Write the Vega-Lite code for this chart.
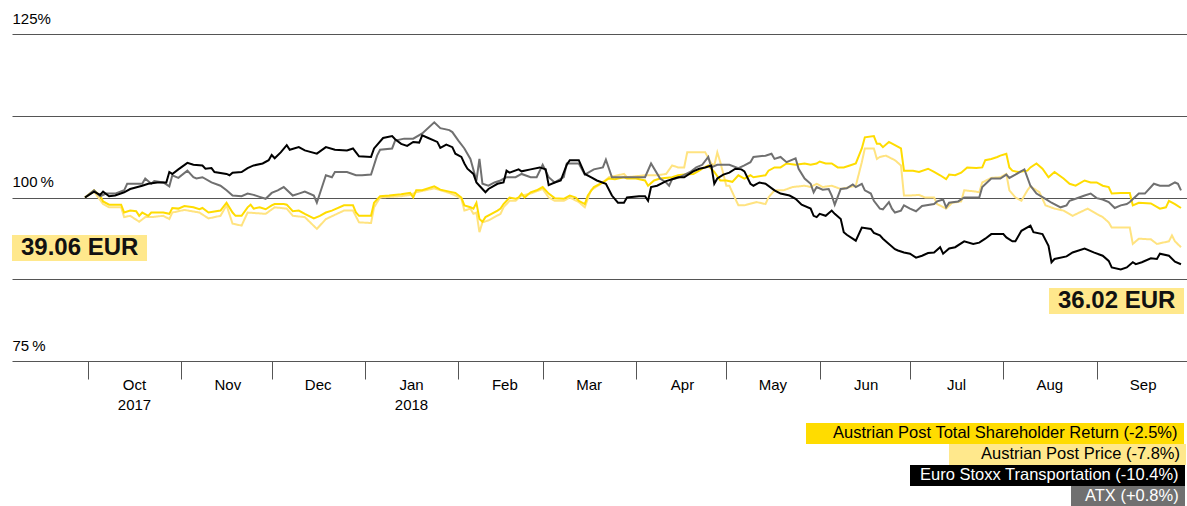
{
"$schema": "https://vega.github.io/schema/vega-lite/v6.json",
"width": 1175, "height": 327,
"autosize": {"type": "none"},
"padding": {"left": 12, "top": 34, "right": 0, "bottom": 145},
"background": "#ffffff",
"config": {"view": {"stroke": null}, "font": "Liberation Sans"},
"datasets": {
"tsr": [
{"d":"2017-09-30","v":100},{"d":"2017-10-03","v":101.1},{"d":"2017-10-05","v":100.3},{"d":"2017-10-06","v":99.4},{"d":"2017-10-08","v":98.9},{"d":"2017-10-12","v":98.9},{"d":"2017-10-13","v":97.7},{"d":"2017-10-15","v":98.0},{"d":"2017-10-17","v":97.9},{"d":"2017-10-18","v":97.2},{"d":"2017-10-19","v":97.7},{"d":"2017-10-21","v":97.2},{"d":"2017-10-22","v":97.7},{"d":"2017-10-24","v":97.7},{"d":"2017-10-26","v":97.7},{"d":"2017-10-28","v":97.5},{"d":"2017-10-29","v":98.4},{"d":"2017-10-31","v":98.3},
{"d":"2017-11-02","v":98.7},{"d":"2017-11-05","v":98.5},{"d":"2017-11-07","v":98.2},{"d":"2017-11-08","v":98.4},{"d":"2017-11-10","v":97.7},{"d":"2017-11-14","v":98.0},{"d":"2017-11-16","v":99.2},{"d":"2017-11-18","v":97.7},{"d":"2017-11-19","v":97.2},{"d":"2017-11-21","v":97.2},{"d":"2017-11-23","v":98.5},{"d":"2017-11-24","v":98.9},{"d":"2017-11-25","v":98.3},{"d":"2017-11-27","v":98.5},{"d":"2017-11-29","v":98.2},
{"d":"2017-12-01","v":98.8},{"d":"2017-12-02","v":99.0},{"d":"2017-12-05","v":99.0},{"d":"2017-12-06","v":98.9},{"d":"2017-12-08","v":97.9},{"d":"2017-12-10","v":98.0},{"d":"2017-12-12","v":97.5},{"d":"2017-12-15","v":96.8},{"d":"2017-12-17","v":97.2},{"d":"2017-12-19","v":97.7},{"d":"2017-12-21","v":98.0},{"d":"2017-12-25","v":98.8},{"d":"2017-12-28","v":98.8},{"d":"2017-12-29","v":97.7},{"d":"2017-12-30","v":97.2},
{"d":"2018-01-03","v":97.2},{"d":"2018-01-04","v":99.2},{"d":"2018-01-06","v":100.2},{"d":"2018-01-09","v":100.3},{"d":"2018-01-13","v":100.5},{"d":"2018-01-16","v":100.7},{"d":"2018-01-17","v":100.0},{"d":"2018-01-18","v":101.1},{"d":"2018-01-20","v":101.1},{"d":"2018-01-24","v":101.7},{"d":"2018-01-26","v":101.2},{"d":"2018-01-29","v":100.9},{"d":"2018-01-31","v":100.7},
{"d":"2018-02-02","v":100.0},{"d":"2018-02-03","v":98.8},{"d":"2018-02-05","v":98.5},{"d":"2018-02-06","v":98.3},{"d":"2018-02-07","v":99.2},{"d":"2018-02-08","v":96.7},{"d":"2018-02-09","v":96.3},{"d":"2018-02-10","v":97.0},{"d":"2018-02-12","v":97.5},{"d":"2018-02-14","v":98.0},{"d":"2018-02-15","v":98.3},{"d":"2018-02-16","v":99.0},{"d":"2018-02-18","v":100.0},{"d":"2018-02-20","v":99.8},{"d":"2018-02-21","v":100.0},{"d":"2018-02-22","v":100.6},{"d":"2018-02-23","v":100.0},{"d":"2018-02-25","v":100.8},{"d":"2018-02-27","v":101.1},
{"d":"2018-03-01","v":101.6},{"d":"2018-03-03","v":100.6},{"d":"2018-03-05","v":99.9},{"d":"2018-03-08","v":99.8},{"d":"2018-03-10","v":100.3},{"d":"2018-03-12","v":100.0},{"d":"2018-03-13","v":99.5},{"d":"2018-03-15","v":99.0},{"d":"2018-03-16","v":100.3},{"d":"2018-03-18","v":101.6},{"d":"2018-03-21","v":102.3},{"d":"2018-03-23","v":102.9},{"d":"2018-03-25","v":102.8},{"d":"2018-03-28","v":103.1},{"d":"2018-03-29","v":102.9},
{"d":"2018-04-01","v":102.9},{"d":"2018-04-04","v":102.6},{"d":"2018-04-05","v":101.8},{"d":"2018-04-07","v":102.6},{"d":"2018-04-09","v":102.9},{"d":"2018-04-13","v":103.1},{"d":"2018-04-15","v":103.4},{"d":"2018-04-17","v":103.5},{"d":"2018-04-20","v":103.6},{"d":"2018-04-22","v":104.1},{"d":"2018-04-23","v":104.4},{"d":"2018-04-25","v":104.9},{"d":"2018-04-27","v":103.9},{"d":"2018-04-29","v":102.6},
{"d":"2018-05-01","v":102.6},{"d":"2018-05-03","v":102.4},{"d":"2018-05-05","v":103.4},{"d":"2018-05-07","v":102.9},{"d":"2018-05-09","v":103.4},{"d":"2018-05-10","v":103.1},{"d":"2018-05-14","v":103.4},{"d":"2018-05-15","v":104.1},{"d":"2018-05-17","v":104.6},{"d":"2018-05-19","v":104.6},{"d":"2018-05-21","v":105.2},{"d":"2018-05-24","v":105.0},{"d":"2018-05-27","v":105.2},{"d":"2018-05-29","v":105.0},{"d":"2018-05-31","v":105.2},
{"d":"2018-06-01","v":105.5},{"d":"2018-06-03","v":105.2},{"d":"2018-06-05","v":105.2},{"d":"2018-06-07","v":104.6},{"d":"2018-06-09","v":104.6},{"d":"2018-06-11","v":104.9},{"d":"2018-06-13","v":105.2},{"d":"2018-06-15","v":107.5},{"d":"2018-06-16","v":109.2},{"d":"2018-06-19","v":109.4},{"d":"2018-06-20","v":108.2},{"d":"2018-06-21","v":108.2},{"d":"2018-06-22","v":107.7},{"d":"2018-06-24","v":108.5},{"d":"2018-06-26","v":108.0},{"d":"2018-06-28","v":107.5},{"d":"2018-06-29","v":104.1},
{"d":"2018-07-02","v":104.1},{"d":"2018-07-04","v":103.9},{"d":"2018-07-07","v":104.4},{"d":"2018-07-09","v":103.9},{"d":"2018-07-11","v":103.4},{"d":"2018-07-13","v":102.8},{"d":"2018-07-14","v":103.5},{"d":"2018-07-16","v":103.4},{"d":"2018-07-18","v":103.8},{"d":"2018-07-20","v":104.6},{"d":"2018-07-23","v":104.5},{"d":"2018-07-25","v":104.6},{"d":"2018-07-26","v":105.7},{"d":"2018-07-28","v":105.9},{"d":"2018-07-30","v":106.2},{"d":"2018-07-31","v":106.4},
{"d":"2018-08-02","v":106.7},{"d":"2018-08-03","v":104.6},{"d":"2018-08-04","v":104.1},{"d":"2018-08-06","v":103.9},{"d":"2018-08-09","v":104.1},{"d":"2018-08-10","v":104.6},{"d":"2018-08-12","v":105.2},{"d":"2018-08-14","v":104.4},{"d":"2018-08-16","v":103.1},{"d":"2018-08-18","v":103.9},{"d":"2018-08-21","v":102.9},{"d":"2018-08-23","v":102.1},{"d":"2018-08-25","v":101.8},{"d":"2018-08-28","v":102.6},{"d":"2018-08-30","v":102.3},
{"d":"2018-09-01","v":102.3},{"d":"2018-09-03","v":101.8},{"d":"2018-09-05","v":101.6},{"d":"2018-09-06","v":100.6},{"d":"2018-09-09","v":100.7},{"d":"2018-09-12","v":100.7},{"d":"2018-09-13","v":98.8},{"d":"2018-09-15","v":99.2},{"d":"2018-09-19","v":99.1},{"d":"2018-09-22","v":98.3},{"d":"2018-09-24","v":98.5},{"d":"2018-09-25","v":99.5},{"d":"2018-09-27","v":99.0},{"d":"2018-09-29","v":98.4}
],
"price": [
{"d":"2017-09-30","v":100},{"d":"2017-10-03","v":100.9},{"d":"2017-10-06","v":99.0},{"d":"2017-10-08","v":98.5},{"d":"2017-10-12","v":98.5},{"d":"2017-10-13","v":97.0},{"d":"2017-10-15","v":97.2},{"d":"2017-10-18","v":96.3},{"d":"2017-10-20","v":97.0},{"d":"2017-10-22","v":97.0},{"d":"2017-10-26","v":97.2},{"d":"2017-10-28","v":96.7},{"d":"2017-10-29","v":97.7},
{"d":"2017-11-02","v":98.1},{"d":"2017-11-07","v":97.7},{"d":"2017-11-10","v":96.8},{"d":"2017-11-14","v":97.2},{"d":"2017-11-16","v":98.8},{"d":"2017-11-18","v":96.0},{"d":"2017-11-21","v":95.7},{"d":"2017-11-23","v":97.7},{"d":"2017-11-29","v":97.5},
{"d":"2017-12-02","v":98.5},{"d":"2017-12-06","v":98.3},{"d":"2017-12-08","v":97.2},{"d":"2017-12-12","v":97.0},{"d":"2017-12-16","v":95.2},{"d":"2017-12-19","v":96.7},{"d":"2017-12-25","v":98.0},{"d":"2017-12-28","v":98.0},{"d":"2017-12-30","v":96.2},
{"d":"2018-01-03","v":96.1},{"d":"2018-01-04","v":98.5},{"d":"2018-01-06","v":100.0},{"d":"2018-01-13","v":100.2},{"d":"2018-01-16","v":100.4},{"d":"2018-01-18","v":100.8},{"d":"2018-01-24","v":101.4},{"d":"2018-01-29","v":100.7},{"d":"2018-01-31","v":100.3},
{"d":"2018-02-02","v":99.8},{"d":"2018-02-03","v":98.0},{"d":"2018-02-05","v":98.3},{"d":"2018-02-06","v":97.5},{"d":"2018-02-07","v":97.7},{"d":"2018-02-08","v":94.7},{"d":"2018-02-09","v":96.2},{"d":"2018-02-11","v":96.5},{"d":"2018-02-13","v":97.0},{"d":"2018-02-15","v":97.5},{"d":"2018-02-16","v":98.5},{"d":"2018-02-18","v":99.5},{"d":"2018-02-20","v":99.5},{"d":"2018-02-22","v":100.3},{"d":"2018-02-25","v":100.6},
{"d":"2018-03-01","v":101.3},{"d":"2018-03-03","v":100.0},{"d":"2018-03-05","v":99.5},{"d":"2018-03-08","v":99.5},{"d":"2018-03-10","v":100.0},{"d":"2018-03-13","v":99.3},{"d":"2018-03-15","v":98.5},{"d":"2018-03-17","v":101.1},{"d":"2018-03-21","v":102.3},{"d":"2018-03-23","v":103.1},{"d":"2018-03-26","v":103.4},{"d":"2018-03-28","v":103.6},{"d":"2018-03-29","v":103.1},
{"d":"2018-04-04","v":103.4},{"d":"2018-04-08","v":103.4},{"d":"2018-04-11","v":103.6},{"d":"2018-04-13","v":104.9},{"d":"2018-04-15","v":104.6},{"d":"2018-04-17","v":104.6},{"d":"2018-04-18","v":106.9},{"d":"2018-04-24","v":106.9},{"d":"2018-04-26","v":105.2},{"d":"2018-04-27","v":104.9},{"d":"2018-04-28","v":106.9},{"d":"2018-04-29","v":105.4},
{"d":"2018-05-01","v":101.8},{"d":"2018-05-02","v":101.8},{"d":"2018-05-04","v":99.8},{"d":"2018-05-05","v":98.8},{"d":"2018-05-07","v":98.8},{"d":"2018-05-11","v":99.3},{"d":"2018-05-14","v":99.0},{"d":"2018-05-15","v":100.0},{"d":"2018-05-17","v":101.1},{"d":"2018-05-20","v":101.1},{"d":"2018-05-23","v":101.6},{"d":"2018-05-27","v":101.8},{"d":"2018-05-29","v":101.6},{"d":"2018-05-31","v":102.1},
{"d":"2018-06-02","v":101.6},{"d":"2018-06-05","v":101.8},{"d":"2018-06-08","v":101.3},{"d":"2018-06-11","v":101.6},{"d":"2018-06-13","v":101.8},{"d":"2018-06-15","v":105.4},{"d":"2018-06-16","v":107.5},{"d":"2018-06-19","v":107.5},{"d":"2018-06-20","v":105.9},{"d":"2018-06-21","v":106.2},{"d":"2018-06-23","v":106.4},{"d":"2018-06-26","v":105.7},{"d":"2018-06-28","v":104.9},{"d":"2018-06-29","v":100.3},
{"d":"2018-07-01","v":100.3},{"d":"2018-07-04","v":100.4},{"d":"2018-07-06","v":100.0},{"d":"2018-07-09","v":100.0},{"d":"2018-07-10","v":99.0},{"d":"2018-07-13","v":98.3},{"d":"2018-07-15","v":99.2},{"d":"2018-07-18","v":99.4},{"d":"2018-07-19","v":101.1},{"d":"2018-07-23","v":100.9},{"d":"2018-07-24","v":100.8},{"d":"2018-07-25","v":102.3},{"d":"2018-07-28","v":103.0},{"d":"2018-07-31","v":103.1},
{"d":"2018-08-02","v":103.6},{"d":"2018-08-03","v":101.1},{"d":"2018-08-05","v":100.0},{"d":"2018-08-07","v":99.5},{"d":"2018-08-09","v":101.1},{"d":"2018-08-10","v":101.7},{"d":"2018-08-13","v":100.8},{"d":"2018-08-15","v":98.8},{"d":"2018-08-18","v":98.3},{"d":"2018-08-21","v":98.0},{"d":"2018-08-24","v":97.2},{"d":"2018-08-29","v":98.3},
{"d":"2018-09-01","v":97.5},{"d":"2018-09-03","v":97.0},{"d":"2018-09-05","v":96.2},{"d":"2018-09-06","v":95.4},{"d":"2018-09-12","v":95.4},{"d":"2018-09-13","v":92.9},{"d":"2018-09-15","v":93.7},{"d":"2018-09-19","v":93.6},{"d":"2018-09-21","v":92.9},{"d":"2018-09-25","v":93.3},{"d":"2018-09-26","v":94.2},{"d":"2018-09-27","v":93.3},{"d":"2018-09-29","v":92.4}
],
"euro": [
{"d":"2017-09-30","v":100},{"d":"2017-10-03","v":100.9},{"d":"2017-10-05","v":100.4},{"d":"2017-10-06","v":100.9},{"d":"2017-10-08","v":100.2},{"d":"2017-10-10","v":100.3},{"d":"2017-10-13","v":100.8},{"d":"2017-10-15","v":101.3},{"d":"2017-10-19","v":101.8},{"d":"2017-10-21","v":102.1},{"d":"2017-10-24","v":102.3},{"d":"2017-10-27","v":102.3},{"d":"2017-10-28","v":103.9},{"d":"2017-10-29","v":103.6},{"d":"2017-10-31","v":104.3},
{"d":"2017-11-03","v":105.3},{"d":"2017-11-05","v":105.0},{"d":"2017-11-08","v":104.9},{"d":"2017-11-09","v":104.4},{"d":"2017-11-11","v":104.5},{"d":"2017-11-12","v":103.9},{"d":"2017-11-16","v":103.6},{"d":"2017-11-17","v":103.4},{"d":"2017-11-18","v":103.8},{"d":"2017-11-21","v":103.9},{"d":"2017-11-23","v":104.5},{"d":"2017-11-25","v":104.9},{"d":"2017-11-28","v":105.2},{"d":"2017-11-30","v":105.7},
{"d":"2017-12-01","v":106.5},{"d":"2017-12-02","v":106.0},{"d":"2017-12-04","v":106.9},{"d":"2017-12-06","v":108.0},{"d":"2017-12-07","v":107.3},{"d":"2017-12-10","v":107.7},{"d":"2017-12-12","v":107.2},{"d":"2017-12-16","v":106.7},{"d":"2017-12-19","v":107.7},{"d":"2017-12-22","v":107.3},{"d":"2017-12-26","v":107.2},{"d":"2017-12-28","v":107.5},{"d":"2017-12-29","v":106.9},{"d":"2017-12-30","v":106.3},
{"d":"2018-01-03","v":106.2},{"d":"2018-01-04","v":107.5},{"d":"2018-01-07","v":109.1},{"d":"2018-01-10","v":109.4},{"d":"2018-01-11","v":108.9},{"d":"2018-01-13","v":108.2},{"d":"2018-01-15","v":107.9},{"d":"2018-01-17","v":108.5},{"d":"2018-01-19","v":108.4},{"d":"2018-01-20","v":109.5},{"d":"2018-01-22","v":109.1},{"d":"2018-01-25","v":108.5},{"d":"2018-01-26","v":107.6},{"d":"2018-01-28","v":108.1},{"d":"2018-01-30","v":107.7},{"d":"2018-01-31","v":106.7},
{"d":"2018-02-02","v":106.2},{"d":"2018-02-03","v":105.2},{"d":"2018-02-04","v":104.4},{"d":"2018-02-06","v":103.6},{"d":"2018-02-07","v":102.3},{"d":"2018-02-08","v":101.8},{"d":"2018-02-10","v":100.8},{"d":"2018-02-11","v":101.3},{"d":"2018-02-14","v":102.1},{"d":"2018-02-16","v":102.3},{"d":"2018-02-17","v":104.1},{"d":"2018-02-18","v":103.8},{"d":"2018-02-21","v":104.3},{"d":"2018-02-22","v":104.0},{"d":"2018-02-25","v":104.3},{"d":"2018-02-28","v":104.6},
{"d":"2018-03-02","v":104.3},{"d":"2018-03-03","v":101.9},{"d":"2018-03-05","v":102.3},{"d":"2018-03-07","v":102.6},{"d":"2018-03-09","v":105.0},{"d":"2018-03-10","v":105.7},{"d":"2018-03-13","v":105.7},{"d":"2018-03-15","v":103.6},{"d":"2018-03-17","v":103.1},{"d":"2018-03-19","v":102.6},{"d":"2018-03-22","v":102.1},{"d":"2018-03-24","v":100.3},{"d":"2018-03-26","v":99.2},{"d":"2018-03-28","v":99.2},{"d":"2018-03-29","v":100.0},
{"d":"2018-04-02","v":100.2},{"d":"2018-04-04","v":100.2},{"d":"2018-04-05","v":99.5},{"d":"2018-04-06","v":101.6},{"d":"2018-04-08","v":101.8},{"d":"2018-04-11","v":102.5},{"d":"2018-04-13","v":102.8},{"d":"2018-04-15","v":103.1},{"d":"2018-04-17","v":103.1},{"d":"2018-04-20","v":104.0},{"d":"2018-04-22","v":104.4},{"d":"2018-04-24","v":104.6},{"d":"2018-04-26","v":104.9},{"d":"2018-04-27","v":102.1},{"d":"2018-04-28","v":102.9},{"d":"2018-04-30","v":103.5},
{"d":"2018-05-02","v":103.8},{"d":"2018-05-04","v":104.4},{"d":"2018-05-06","v":104.3},{"d":"2018-05-07","v":104.0},{"d":"2018-05-09","v":102.1},{"d":"2018-05-10","v":101.8},{"d":"2018-05-12","v":102.3},{"d":"2018-05-14","v":102.1},{"d":"2018-05-17","v":101.1},{"d":"2018-05-19","v":100.6},{"d":"2018-05-22","v":100.3},{"d":"2018-05-24","v":99.8},{"d":"2018-05-26","v":98.9},{"d":"2018-05-29","v":98.3},{"d":"2018-05-30","v":97.2},{"d":"2018-05-31","v":97.0},
{"d":"2018-06-01","v":97.5},{"d":"2018-06-03","v":97.2},{"d":"2018-06-05","v":98.0},{"d":"2018-06-06","v":97.5},{"d":"2018-06-08","v":96.7},{"d":"2018-06-09","v":94.7},{"d":"2018-06-10","v":94.3},{"d":"2018-06-13","v":93.4},{"d":"2018-06-15","v":95.4},{"d":"2018-06-18","v":95.2},{"d":"2018-06-19","v":94.6},{"d":"2018-06-21","v":94.2},{"d":"2018-06-22","v":93.7},{"d":"2018-06-24","v":92.9},{"d":"2018-06-26","v":92.1},{"d":"2018-06-27","v":91.9},{"d":"2018-06-29","v":91.6},
{"d":"2018-07-01","v":91.4},{"d":"2018-07-03","v":90.8},{"d":"2018-07-05","v":91.1},{"d":"2018-07-07","v":91.5},{"d":"2018-07-09","v":91.6},{"d":"2018-07-11","v":92.4},{"d":"2018-07-12","v":91.4},{"d":"2018-07-14","v":92.2},{"d":"2018-07-16","v":92.4},{"d":"2018-07-19","v":93.3},{"d":"2018-07-22","v":92.9},{"d":"2018-07-24","v":93.1},{"d":"2018-07-26","v":93.7},{"d":"2018-07-28","v":94.4},
{"d":"2018-08-01","v":94.4},{"d":"2018-08-02","v":93.9},{"d":"2018-08-04","v":93.3},{"d":"2018-08-05","v":93.3},{"d":"2018-08-07","v":94.9},{"d":"2018-08-10","v":95.7},{"d":"2018-08-11","v":94.7},{"d":"2018-08-14","v":94.4},{"d":"2018-08-16","v":92.6},{"d":"2018-08-17","v":90.1},{"d":"2018-08-18","v":90.6},{"d":"2018-08-22","v":91.0},{"d":"2018-08-24","v":91.6},{"d":"2018-08-28","v":92.2},{"d":"2018-08-31","v":91.6},
{"d":"2018-09-03","v":91.1},{"d":"2018-09-05","v":90.3},{"d":"2018-09-06","v":89.3},{"d":"2018-09-09","v":89.0},{"d":"2018-09-11","v":89.3},{"d":"2018-09-13","v":90.1},{"d":"2018-09-14","v":89.8},{"d":"2018-09-16","v":90.1},{"d":"2018-09-19","v":90.7},{"d":"2018-09-21","v":90.6},{"d":"2018-09-22","v":91.4},{"d":"2018-09-25","v":91.1},{"d":"2018-09-27","v":90.2},{"d":"2018-09-29","v":89.8}
],
"atx": [
{"d":"2017-09-30","v":100},{"d":"2017-10-03","v":101.1},{"d":"2017-10-05","v":100.2},{"d":"2017-10-07","v":100.6},{"d":"2017-10-10","v":100.6},{"d":"2017-10-13","v":101.1},{"d":"2017-10-14","v":102.1},{"d":"2017-10-19","v":102.1},{"d":"2017-10-20","v":102.9},{"d":"2017-10-22","v":102.1},{"d":"2017-10-23","v":102.5},{"d":"2017-10-26","v":102.3},{"d":"2017-10-28","v":101.7},{"d":"2017-10-29","v":103.4},{"d":"2017-10-31","v":103.0},
{"d":"2017-11-03","v":104.1},{"d":"2017-11-05","v":103.1},{"d":"2017-11-06","v":102.9},{"d":"2017-11-08","v":103.1},{"d":"2017-11-11","v":102.3},{"d":"2017-11-14","v":101.8},{"d":"2017-11-16","v":101.1},{"d":"2017-11-18","v":100.3},{"d":"2017-11-21","v":100.2},{"d":"2017-11-23","v":100.6},{"d":"2017-11-25","v":100.4},{"d":"2017-11-27","v":100.1},{"d":"2017-11-29","v":99.8},
{"d":"2017-12-01","v":100.7},{"d":"2017-12-03","v":101.1},{"d":"2017-12-05","v":101.6},{"d":"2017-12-08","v":100.3},{"d":"2017-12-10","v":100.6},{"d":"2017-12-12","v":100.9},{"d":"2017-12-15","v":100.3},{"d":"2017-12-16","v":99.2},{"d":"2017-12-19","v":103.4},{"d":"2017-12-21","v":103.1},{"d":"2017-12-22","v":103.9},{"d":"2017-12-26","v":103.9},{"d":"2017-12-29","v":103.4},{"d":"2017-12-31","v":103.4},
{"d":"2018-01-03","v":103.5},{"d":"2018-01-05","v":106.4},{"d":"2018-01-06","v":107.3},{"d":"2018-01-10","v":107.5},{"d":"2018-01-11","v":108.7},{"d":"2018-01-14","v":109.0},{"d":"2018-01-17","v":109.0},{"d":"2018-01-20","v":109.8},{"d":"2018-01-24","v":111.5},{"d":"2018-01-26","v":110.6},{"d":"2018-01-29","v":110.3},{"d":"2018-01-30","v":110.0},
{"d":"2018-02-01","v":108.7},{"d":"2018-02-03","v":107.5},{"d":"2018-02-05","v":105.9},{"d":"2018-02-07","v":102.6},{"d":"2018-02-08","v":105.9},{"d":"2018-02-09","v":102.1},{"d":"2018-02-11","v":101.8},{"d":"2018-02-13","v":102.3},{"d":"2018-02-15","v":102.6},{"d":"2018-02-17","v":103.1},{"d":"2018-02-20","v":103.1},{"d":"2018-02-22","v":103.6},{"d":"2018-02-25","v":103.1},{"d":"2018-02-27","v":103.1},
{"d":"2018-03-01","v":105.0},{"d":"2018-03-03","v":103.1},{"d":"2018-03-05","v":102.3},{"d":"2018-03-08","v":103.1},{"d":"2018-03-09","v":105.2},{"d":"2018-03-13","v":105.2},{"d":"2018-03-15","v":103.5},{"d":"2018-03-18","v":104.3},{"d":"2018-03-21","v":104.6},{"d":"2018-03-22","v":105.8},{"d":"2018-03-24","v":103.1},{"d":"2018-03-28","v":103.1},
{"d":"2018-04-04","v":103.1},{"d":"2018-04-06","v":105.2},{"d":"2018-04-09","v":102.9},{"d":"2018-04-11","v":102.3},{"d":"2018-04-12","v":101.8},{"d":"2018-04-13","v":102.8},{"d":"2018-04-15","v":103.0},{"d":"2018-04-19","v":103.9},{"d":"2018-04-21","v":104.6},{"d":"2018-04-23","v":105.0},{"d":"2018-04-25","v":106.2},{"d":"2018-04-26","v":104.6},{"d":"2018-04-28","v":105.0},
{"d":"2018-05-02","v":105.0},{"d":"2018-05-05","v":104.5},{"d":"2018-05-07","v":104.9},{"d":"2018-05-09","v":105.4},{"d":"2018-05-10","v":106.2},{"d":"2018-05-14","v":106.4},{"d":"2018-05-16","v":106.7},{"d":"2018-05-17","v":105.9},{"d":"2018-05-19","v":106.2},{"d":"2018-05-21","v":105.4},{"d":"2018-05-24","v":106.0},{"d":"2018-05-25","v":104.4},{"d":"2018-05-27","v":102.9},{"d":"2018-05-29","v":102.1},{"d":"2018-05-30","v":100.8},{"d":"2018-05-31","v":101.6},
{"d":"2018-06-02","v":101.2},{"d":"2018-06-04","v":101.3},{"d":"2018-06-05","v":100.3},{"d":"2018-06-06","v":98.9},{"d":"2018-06-08","v":101.3},{"d":"2018-06-10","v":101.4},{"d":"2018-06-12","v":102.0},{"d":"2018-06-13","v":101.6},{"d":"2018-06-15","v":102.1},{"d":"2018-06-16","v":101.1},{"d":"2018-06-18","v":100.6},{"d":"2018-06-19","v":99.5},{"d":"2018-06-21","v":98.3},{"d":"2018-06-22","v":98.2},{"d":"2018-06-24","v":99.3},{"d":"2018-06-25","v":98.3},{"d":"2018-06-26","v":97.7},{"d":"2018-06-28","v":98.0},{"d":"2018-06-29","v":98.8},
{"d":"2018-07-01","v":98.3},{"d":"2018-07-03","v":97.9},{"d":"2018-07-05","v":98.7},{"d":"2018-07-09","v":99.0},{"d":"2018-07-10","v":99.4},{"d":"2018-07-12","v":99.7},{"d":"2018-07-13","v":98.5},{"d":"2018-07-14","v":99.2},{"d":"2018-07-17","v":99.4},{"d":"2018-07-19","v":100.0},{"d":"2018-07-24","v":100.0},{"d":"2018-07-25","v":101.6},{"d":"2018-07-28","v":102.9},{"d":"2018-07-31","v":102.9},
{"d":"2018-08-02","v":103.5},{"d":"2018-08-03","v":103.0},{"d":"2018-08-05","v":103.5},{"d":"2018-08-08","v":104.3},{"d":"2018-08-10","v":101.8},{"d":"2018-08-12","v":100.6},{"d":"2018-08-15","v":99.8},{"d":"2018-08-17","v":99.2},{"d":"2018-08-20","v":98.5},{"d":"2018-08-22","v":98.8},{"d":"2018-08-23","v":99.5},{"d":"2018-08-25","v":99.8},{"d":"2018-08-28","v":100.3},{"d":"2018-08-30","v":100.6},
{"d":"2018-09-01","v":99.9},{"d":"2018-09-03","v":99.7},{"d":"2018-09-05","v":99.3},{"d":"2018-09-07","v":98.4},{"d":"2018-09-09","v":98.8},{"d":"2018-09-11","v":99.0},{"d":"2018-09-12","v":99.3},{"d":"2018-09-15","v":100.6},{"d":"2018-09-17","v":100.6},{"d":"2018-09-20","v":102.1},{"d":"2018-09-22","v":101.8},{"d":"2018-09-25","v":101.8},{"d":"2018-09-27","v":102.3},{"d":"2018-09-28","v":102.1},{"d":"2018-09-29","v":101.1}
]
},
"encoding": {
  "x": {
    "field": "d", "type": "temporal",
    "scale": {"type": "utc", "domain": [{"year": 2017, "month": 9, "date": 5, "hours": 18, "utc": true}, {"year": 2018, "month": 10, "date": 1, "utc": true}]},
    "axis": {
      "title": null, "grid": false, "domain": false,
      "values": [
        {"year": 2017, "month": 10, "date": 1, "utc": true},
        {"year": 2017, "month": 11, "date": 1, "utc": true},
        {"year": 2017, "month": 12, "date": 1, "utc": true},
        {"year": 2018, "month": 1, "date": 1, "utc": true},
        {"year": 2018, "month": 2, "date": 1, "utc": true},
        {"year": 2018, "month": 3, "date": 1, "utc": true},
        {"year": 2018, "month": 4, "date": 1, "utc": true},
        {"year": 2018, "month": 5, "date": 1, "utc": true},
        {"year": 2018, "month": 6, "date": 1, "utc": true},
        {"year": 2018, "month": 7, "date": 1, "utc": true},
        {"year": 2018, "month": 8, "date": 1, "utc": true},
        {"year": 2018, "month": 9, "date": 1, "utc": true},
        {"year": 2018, "month": 10, "date": 1, "utc": true}
      ],
      "ticks": true, "tickSize": 18, "tickColor": "#555555", "tickWidth": 1,
      "labelExpr": "(utcmonth(datum.value) == 9 && utcyear(datum.value) == 2018) ? '' : ((utcmonth(datum.value) == 9 || utcmonth(datum.value) == 0) ? [utcFormat(datum.value, '%b'), utcFormat(datum.value, '%Y')] : utcFormat(datum.value, '%b'))",
      "labelAlign": "center", "labelBaseline": "alphabetic", "labelPadding": 10, "labelOffset": 46,
      "labelFont": "Liberation Sans", "labelFontSize": 15, "labelColor": "#000000", "labelLineHeight": 20,
      "labelOverlap": false, "labelFlush": false, "labelBound": false
    }
  },
  "y": {
    "field": "v", "type": "quantitative",
    "scale": {"domain": [75, 125], "nice": false, "zero": false},
    "axis": {
      "title": null, "domain": false, "ticks": false, "tickSize": 0,
      "values": [75, 87.5, 100, 112.5, 125],
      "grid": true, "gridColor": "#555555", "gridWidth": 1,
      "labelExpr": "datum.value == 125 ? '125%' : ((datum.value == 87.5 || datum.value == 112.5) ? '' : datum.value + '\u2009%')",
      "labelAlign": "left", "labelBaseline": "alphabetic", "labelPadding": 0, "labelOffset": -11,
      "labelFont": "Liberation Sans", "labelFontSize": 15, "labelColor": "#000000",
      "labelOverlap": false, "labelFlush": false, "labelBound": false
    }
  }
},
"layer": [
  {
    "data": {"name": "price"},
    "mark": {"type": "line", "color": "#FFE380", "strokeWidth": 2},
    "encoding": {
      "strokeDash": {"datum": "Austrian Post Price (-7.8%)", "type": "nominal", "scale": {"range": [[1, 0]]},
        "legend": {"orient": "none", "legendX": 937, "legendY": 410, "title": "\u00a0", "titleOrient": "right", "titleFontSize": 1, "titlePadding": 4, "fillColor": "#FFE88C", "padding": 2, "symbolSize": 0, "symbolStrokeWidth": 0, "symbolOpacity": 0, "labelOffset": 13.5, "labelFont": "Liberation Sans", "labelFontSize": 16.5, "labelColor": "#000000", "labelLimit": 1000}}
    }
  },
  {
    "data": {"name": "tsr"},
    "mark": {"type": "line", "strokeWidth": 2},
    "encoding": {
      "color": {"datum": "Austrian Post Total Shareholder Return (-2.5%)", "type": "nominal", "scale": {"range": ["#FFDC00"]},
        "legend": {"orient": "none", "legendX": 794, "legendY": 389, "title": "\u00a0", "titleOrient": "right", "titleFontSize": 1, "titlePadding": 4, "fillColor": "#FFDC00", "padding": 2, "symbolSize": 0, "symbolStrokeWidth": 0, "symbolOpacity": 0, "labelOffset": 8.5, "labelFont": "Liberation Sans", "labelFontSize": 16.5, "labelColor": "#000000", "labelLimit": 1000}}
    }
  },
  {
    "data": {"name": "atx"},
    "mark": {"type": "line", "color": "#707070"},
    "encoding": {
      "strokeWidth": {"datum": "ATX (+0.8%)", "type": "ordinal", "scale": {"range": [2, 2]},
        "legend": {"orient": "none", "legendX": 1059, "legendY": 452, "title": "\u00a0", "titleOrient": "right", "titleFontSize": 1, "titlePadding": 4, "fillColor": "#707070", "padding": 2, "symbolSize": 0, "symbolStrokeWidth": 0, "symbolOpacity": 0, "labelOffset": -4.5, "labelFont": "Liberation Sans", "labelFontSize": 16.5, "labelColor": "#ffffff", "labelLimit": 1000}}
    }
  },
  {
    "data": {"name": "euro"},
    "mark": {"type": "line", "color": "#000000", "strokeWidth": 2},
    "encoding": {
      "opacity": {"datum": "Euro Stoxx Transportation (-10.4%)", "type": "ordinal", "scale": {"range": [1, 1]},
        "legend": {"orient": "none", "legendX": 898, "legendY": 431, "title": "\u00a0", "titleOrient": "right", "titleFontSize": 1, "titlePadding": 4, "fillColor": "#000000", "padding": 2, "symbolSize": 0, "symbolStrokeWidth": 0, "symbolOpacity": 0, "labelOffset": -8.5, "labelFont": "Liberation Sans", "labelFontSize": 16.5, "labelColor": "#ffffff", "labelLimit": 1000}}
    }
  },
  {
    "data": {"values": [{}]},
    "mark": {"type": "point", "opacity": 0},
    "encoding": {
      "shape": {"datum": "39.06 EUR", "type": "nominal",
        "legend": {"orient": "none", "legendX": 0, "legendY": 201, "title": "\u00a0", "titleOrient": "right", "titleFontSize": 1, "titlePadding": 8, "fillColor": "#FFE88C", "padding": 1, "symbolSize": 0, "symbolStrokeWidth": 0, "symbolOpacity": 0, "labelOffset": -16, "labelFont": "Liberation Sans", "labelFontSize": 24, "labelFontWeight": "bold", "labelColor": "#111111", "labelLimit": 1000}}
    }
  },
  {
    "data": {"values": [{}]},
    "mark": {"type": "point", "opacity": 0},
    "encoding": {
      "fill": {"datum": "36.02 EUR", "type": "nominal", "scale": {"range": ["#000000"]},
        "legend": {"orient": "none", "legendX": 1037, "legendY": 254, "title": "\u00a0", "titleOrient": "right", "titleFontSize": 1, "titlePadding": 8, "fillColor": "#FFE88C", "padding": 1, "symbolSize": 0, "symbolStrokeWidth": 0, "symbolOpacity": 0, "labelOffset": -16, "labelFont": "Liberation Sans", "labelFontSize": 24, "labelFontWeight": "bold", "labelColor": "#111111", "labelLimit": 1000}}
    }
  }
]
}
